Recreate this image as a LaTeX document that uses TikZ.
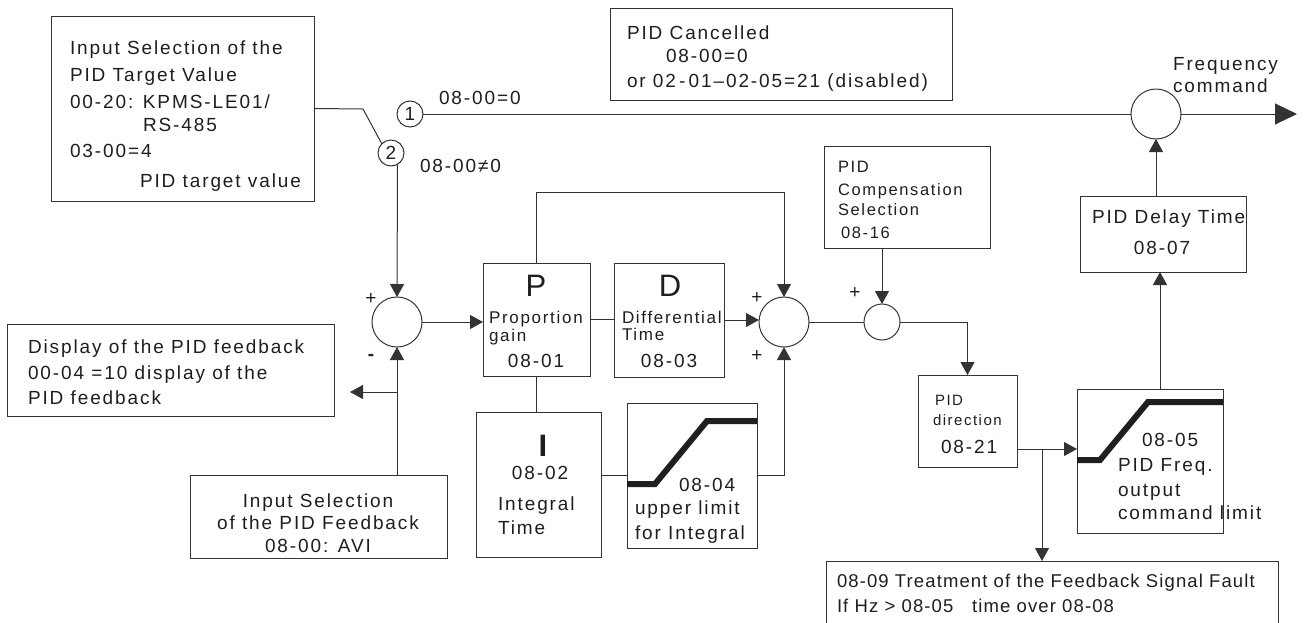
\documentclass[tikz,border=0pt]{standalone}
\usepackage{fontspec}
\setmainfont{Liberation Sans}[LetterSpace=10]
\newfontfamily\faultfont{Liberation Sans}[LetterSpace=6]
\usetikzlibrary{arrows.meta,calc}
\definecolor{lc}{HTML}{333333}
\definecolor{tc}{HTML}{1E1E1E}
\newcommand\bx[5]{\node[box,minimum width=#4pt,minimum height=#5pt] (#1) at (#2,#3) {};}
\begin{document}
\begin{tikzpicture}[x=1pt,y=-1pt,
  line width=1pt, draw=lc,
  every node/.style={inner sep=0pt,outer sep=0pt,text=tc},
  box/.style={draw=lc,rectangle,anchor=north west},
  sumc/.style={draw=lc,circle,minimum size=50pt},
  numc/.style={draw=lc,circle,minimum size=26pt,font=\fontsize{19}{22}\selectfont},
  arr/.style={-{Triangle[length=13pt,width=14pt]}},
  bigarr/.style={-{Triangle[length=22pt,width=21pt]}},
  tl/.style={anchor=base west},
  tm/.style={anchor=base},
  fa/.style={font=\fontsize{19}{23}\selectfont},
  fb/.style={font=\fontsize{17}{20}\selectfont},
  fc/.style={font=\fontsize{16.5}{20}\selectfont},
  fd/.style={font=\fontsize{15}{18}\selectfont},
  fbig/.style={font=\fontsize{31}{34}\selectfont},
  fs/.style={font=\fontsize{19}{20}\selectfont},
  thick limit/.style={line width=6pt,draw=black!88}
]
\useasboundingbox (0,0) rectangle (1304,622);

% ---------- boxes ----------
\bx{tgt}{51}{16}{263}{185}
\bx{cancel}{610}{8}{342}{92}
\bx{disp}{7}{324}{327}{92}
\bx{fbk}{190}{475}{257}{83}
\bx{P}{483}{263}{107}{113}
\bx{D}{614}{263}{110}{114}
\bx{I}{476}{412}{125}{145}
\bx{lim1}{627}{403}{130}{145}
\bx{comp}{824}{146}{166}{102}
\bx{dir}{918}{375}{99}{92}
\bx{lim2}{1077}{389}{146}{144}
\bx{delay}{1080}{196}{166}{76}
\bx{fault}{826}{561}{452}{80}

% ---------- circles ----------
\node[numc] (c1) at (410,114) {1};
\node[numc] (c2) at (391,153) {2};
\node[sumc] (sum1) at (397,322) {};
\node[sumc] (sum2) at (784,322) {};
\node[draw=lc,circle,minimum size=36pt] (sum3) at (882,322) {};
\node[sumc] (out) at (1156,114) {};

% ---------- texts ----------
\node[tl,fa] (t1) at (70,54) {Input Selection of the};
\node[tl,fa] (t2) at (70,81) {PID Target Value};
\node[tl,fa] (t3) at (70,108) {00-20: KPMS-LE01/};
\node[tl,fa] (t4) at (143,131) {RS-485};
\node[tl,fa] (t5) at (70,157) {03-00=4};
\node[tl,fa] (t6) at (140,187) {PID target value};

\node[tl,fa] (k1) at (627,39) {PID Cancelled};
\node[tl,fa] (k2) at (666,62) {08-00=0};
\node[tl,fa] (k3) at (627,87) {or 02\,-\,01–02-05=21 (disabled)};

\node[tl,fa] (l1) at (439,104) {08-00=0};
\node[tl,fa] (l2) at (420,172) {08-00≠0};
\node[tl,fa] (fq1) at (1173,70) {Frequency};
\node[tl,fa] (fq2) at (1173,92) {command};

\node[tl,fa] (d1) at (28,353) {Display of the PID feedback};
\node[tl,fa] (d2) at (28,379) {00-04 =10 display of the};
\node[tl,fa] (d3) at (28,404) {PID feedback};

\node[tm,fa] (f1) at (318,507) {Input Selection};
\node[tm,fa] (f2) at (318,529) {of the PID Feedback};
\node[tm,fa] (f3) at (318,552) {08-00: AVI};

\node[tm,fbig] (pP) at (536,296) {P};
\node[tl,fb] (p1) at (489,323) {Proportion};
\node[tl,fb] (p2) at (489,341) {gain};
\node[tm,fa] (p3) at (536,367) {08-01};

\node[tm,fbig] (dD) at (670,296) {D};
\node[tl,fb] (dd1) at (622,323) {Differential};
\node[tl,fb] (dd2) at (622,340) {Time};
\node[tm,fa] (dd3) at (669,367) {08-03};

\node[tm,fbig] (iI) at (543,456) {\bfseries I};
\node[tm,fa] (i1) at (540,479) {08-02};
\node[tl,fa] (i2) at (498,510) {Integral};
\node[tl,fa] (i3) at (498,534) {Time};

\node[tl,fa] (m1) at (679,491) {08-04};
\node[tl,fa] (m2) at (635,514) {upper limit};
\node[tl,fa] (m3) at (635,539) {for Integral};

\node[tl,fc] (cp1) at (838,172) {PID};
\node[tl,fc] (cp2) at (838,195) {Compensation};
\node[tl,fc] (cp3) at (838,215) {Selection};
\node[tl,fc] (cp4) at (841,238) {08-16};

\node[tl,fd] (r1) at (935,405) {PID};
\node[tl,fd] (r2) at (933,425) {direction};
\node[tl,fa] (r3) at (941,453) {08-21};

\node[tl,fa] (n1) at (1142,446) {08-05};
\node[tl,fa] (n2) at (1118,471) {PID Freq.};
\node[tl,fa] (n3) at (1118,496) {output};
\node[tl,fa] (n4) at (1118,519) {command limit};

\node[tl,fa] (y1) at (1092,223) {PID Delay Time};
\node[tm,fa] (y2) at (1162,254) {08-07};

\node[tl,font=\faultfont\fontsize{18.5}{22}\selectfont] (x1) at (837,587) {08-09 Treatment of the Feedback Signal Fault};
\node[tl,font=\faultfont\fontsize{18.5}{22}\selectfont] (x2) at (837,612) {If Hz > 08-05\ \ \ time over 08-08};

% signs
\node[fs] (s1) at (371,299) {+};
\node[fa] (s2) at (371,357) {\bfseries -};
\node[fs] (s3) at (757,298) {+};
\node[fs] (s4) at (757,356) {+};
\node[fs] (s5) at (855,293) {+};

% ---------- thick limit curves ----------
\draw[thick limit] (627,484) -- (655,484) -- (707,421) -- (757,421);
\draw[thick limit] (1077,460) -- (1100,460) -- (1148,402) -- (1223,402);

% ---------- connectors ----------
\coordinate (kink) at (363,109);
\draw (tgt.east) -- (kink) -- (c2.135);
\draw (c1.east) -- (out.west);
\coordinate (fout) at (1297,114);
\draw[bigarr] (out.east) -- (fout);
\draw[arr] (c2.-60) -- (sum1.north);
\draw[arr] (fbk.north -| sum1.south) -- (sum1.south);
\coordinate (fbr) at (397,392);
\coordinate (dsp) at (350,392);
\draw[arr] (fbr) -- (dsp);
\draw[arr] (sum1.east) -- (sum1.east -| P.west);
\draw[arr] (P.north) -- ++(0,-71) -| (sum2.north);
\draw (P.east) -- (P.east -| D.west);
\draw[arr] (D.east) -- (D.east -| sum2.west);
\draw (P.south) -- (P.south |- I.north);
\draw (lim1.west -| I.east) -- (lim1.west);
\draw[arr] (lim1.east) -| (sum2.south);
\draw (sum2.east) -- (sum3.west);
\draw[arr] (comp.south -| sum3.north) -- (sum3.north);
\draw[arr] (sum3.east) -| (dir.north);
\coordinate (brk) at (1042,449);
\draw (brk -| dir.east) -- (brk);
\draw[arr] (brk) -- (brk -| lim2.west);
\draw[arr] (brk) -- (brk |- fault.north);
\coordinate (dl) at (1160,300);
\draw[arr] (dl |- lim2.north) -- (dl |- delay.south);
\draw[arr] (delay.north -| out.south) -- (out.south);
\end{tikzpicture}
\end{document}
